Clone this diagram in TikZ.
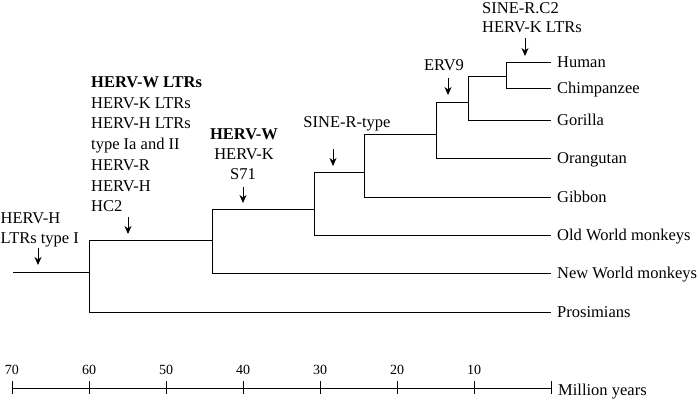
\documentclass[tikz,border=0pt]{standalone}
\usepackage{fontspec}
\setmainfont{Liberation Serif}
\usetikzlibrary{arrows.meta}
\begin{document}
\begin{tikzpicture}[x=1pt,y=-1pt,
  every node/.style={inner sep=0pt, font=\fontsize{16.5}{20}\selectfont},
  tree/.style={line width=0.9pt},
  leaf/.style={anchor=west, inner xsep=6pt, inner ysep=0pt, text height=11pt, text depth=0pt},
  lbl/.style={anchor=base},
  lbll/.style={anchor=base west},
  evt/.style={line width=1pt, -{Stealth[length=8pt,width=7pt,inset=2.5pt]}},
  num/.style={anchor=base, font=\fontsize{14}{16}\selectfont}]
\useasboundingbox (0,0) rectangle (700,399);

% leaves
\node[leaf] (human)  at (551,62)  {Human};
\node[leaf] (chimp)  at (551,88)  {Chimpanzee};
\node[leaf] (gor)    at (551,120) {Gorilla};
\node[leaf] (ora)    at (551,158) {Orangutan};
\node[leaf] (gib)    at (551,197) {Gibbon};
\node[leaf] (owm)    at (551,235) {Old World monkeys};
\node[leaf] (nwm)    at (551,273) {New World monkeys};
\node[leaf] (pros)   at (551,312) {Prosimians};

% internal nodes
\coordinate (root) at (13,272);
\coordinate (k0) at (89,272);
\coordinate (k1) at (212,240);
\coordinate (k2) at (314,209);
\coordinate (k3) at (364,172);
\coordinate (k4) at (436,134);
\coordinate (k5) at (468,102);
\coordinate (k6) at (506,76);

\draw[tree] (root) -- (k0);
\draw[tree] (k0) |- (k1);
\draw[tree] (k0) |- (pros.west);
\draw[tree] (k1) |- (k2);
\draw[tree] (k1) |- (nwm.west);
\draw[tree] (k2) |- (k3);
\draw[tree] (k2) |- (owm.west);
\draw[tree] (k3) |- (k4);
\draw[tree] (k3) |- (gib.west);
\draw[tree] (k4) |- (k5);
\draw[tree] (k4) |- (ora.west);
\draw[tree] (k5) |- (k6);
\draw[tree] (k5) |- (gor.west);
\draw[tree] (k6) |- (human.west);
\draw[tree] (k6) |- (chimp.west);

% event labels
\node[lbll] (hh1) at (0.5,223) {HERV-H};
\node[lbll] (hh2) at (0.5,243) {LTRs type I};

\node[lbll] (b1) at (91,87)  {\bfseries HERV-W LTRs};
\node[lbll] (b2) at (91,108) {HERV-K LTRs};
\node[lbll] (b3) at (91,128) {HERV-H LTRs};
\node[lbll] (b4) at (91,149) {type Ia and II};
\node[lbll] (b5) at (91,170) {HERV-R};
\node[lbll] (b6) at (91,191) {HERV-H};
\node[lbll] (b7) at (91,211) {HC2};

\node[lbl] (w1) at (244,139) {\bfseries HERV-W};
\node[lbl] (w2) at (244,159) {HERV-K};
\node[lbl] (w3) at (243,179) {S71};

\node[lbl] (sr) at (347,127) {SINE-R-type};
\node[lbl] (erv) at (444,70) {ERV9};

\node[lbll] (sc1) at (482,13) {SINE-R.C2};
\node[lbll] (sc2) at (482,32) {HERV-K LTRs};

% arrows
\coordinate (a1s) at (38,248);  \coordinate (a1e) at (38,265);
\coordinate (a2s) at (128,217); \coordinate (a2e) at (128,234);
\coordinate (a3s) at (243,187); \coordinate (a3e) at (243,203);
\coordinate (a4s) at (333,149); \coordinate (a4e) at (333,166);
\coordinate (a5s) at (448,78);  \coordinate (a5e) at (448,95);
\coordinate (a6s) at (525,38);  \coordinate (a6e) at (525,56);
\draw[evt] (a1s) -- (a1e);
\draw[evt] (a2s) -- (a2e);
\draw[evt] (a3s) -- (a3e);
\draw[evt] (a4s) -- (a4e);
\draw[evt] (a5s) -- (a5e);
\draw[evt] (a6s) -- (a6e);

% time axis
\coordinate (ax0) at (551,388);
\coordinate (ax70) at (12,388);
\draw[tree] (ax70) -- (ax0);
\foreach \v/\x in {70/12,60/89,50/166,40/243,30/320,20/397,10/474} {
  \coordinate (t\v) at (\x,388);
  \draw[tree] (t\v) ++(0,-7) -- ++(0,13);
  \node[num] (n\v) at (\x,374) {\v};
}
\draw[tree] (ax0) ++(0,-7) -- ++(0,13);
\node[lbll] (my) at (558,395) {Million years};
\end{tikzpicture}
\end{document}
